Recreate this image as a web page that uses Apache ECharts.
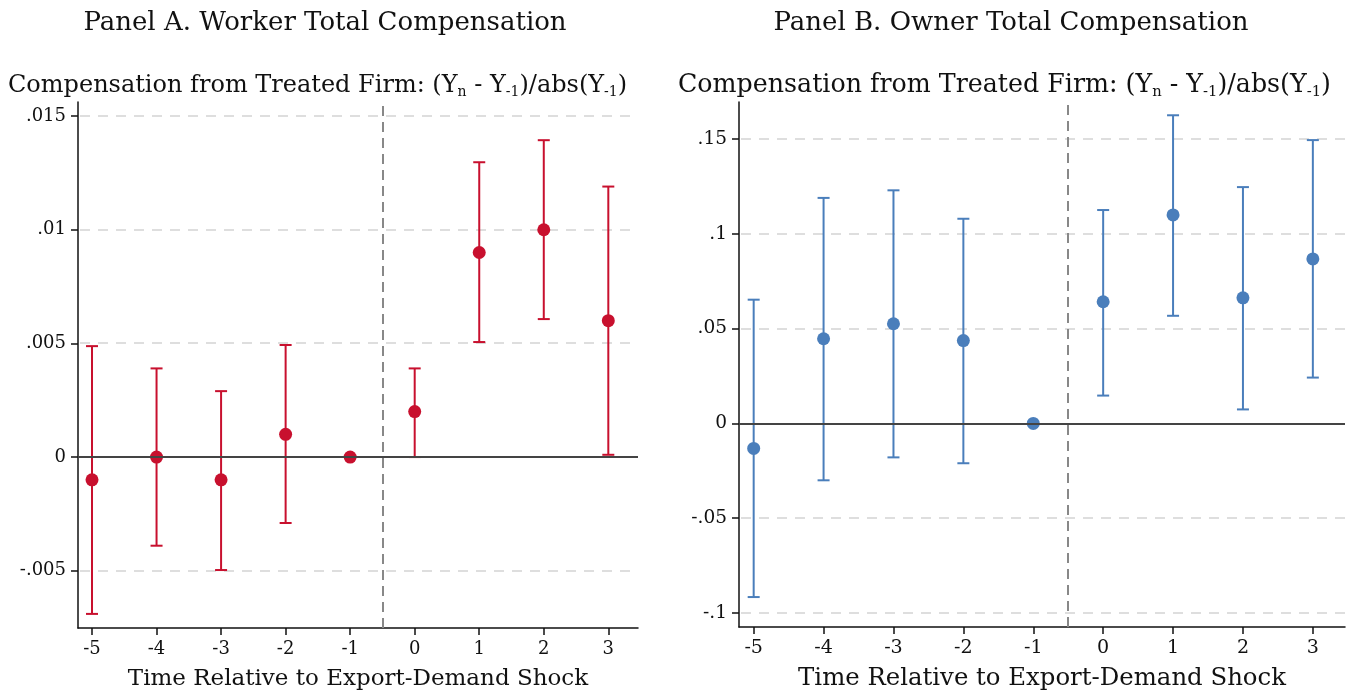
<!DOCTYPE html>
<html>
<head>
<meta charset="utf-8">
<script src="https://cdn.jsdelivr.net/npm/echarts@6/dist/echarts.min.js"></script>
<style>
html,body{margin:0;padding:0;background:#fff;}
#chart{width:1354px;height:696px;}
</style>
</head>
<body>
<div id="chart"></div>
<script>
// event time
var periods = [-5, -4, -3, -2, -1, 0, 1, 2, 3];

// Panel A: worker total compensation
var workerEst = [-0.001, 0.0, -0.001, 0.001, 0.0, 0.002, 0.009, 0.010, 0.006];
var workerLo = [-0.0069, -0.0039, -0.00497, -0.0029, null, 0.0, 0.00506, 0.00607, 0.0001];
var workerHi = [0.00488, 0.0039, 0.0029, 0.00493, null, 0.0039, 0.01297, 0.01394, 0.0119];

// Panel B: owner total compensation
var ownerEst = [-0.0132, 0.0447, 0.0526, 0.0437, 0.0, 0.0642, 0.110, 0.0663, 0.0868];
var ownerLo = [-0.0916, -0.030, -0.0179, -0.021, null, 0.0147, 0.0568, 0.0074, 0.0242];
var ownerHi = [0.0653, 0.119, 0.123, 0.108, null, 0.1126, 0.1626, 0.1247, 0.1495];

var workerTicks = [-0.005, 0, 0.005, 0.01, 0.015];
var ownerTicks = [-0.1, -0.05, 0, 0.05, 0.1, 0.15];

var red = '#c8102e', blue = '#4a7ebb';
var serif = '"DejaVu Serif", "Liberation Serif", serif';

var myChart = echarts.init(document.getElementById('chart'));

function fmt(v) {
	if (Math.abs(v) < 1e-12) return '0';
	var s = String(+v.toFixed(4));
	return s.replace('0.', '.');
}

function pts(est) {
	return periods.map(function(p, i) { return [p, est[i]]; });
}
function bars(lo, hi) {
	var d = [];
	periods.forEach(function(p, i) {
		if (lo[i] != null) d.push([p, lo[i], hi[i]]);
	});
	return d;
}

function errRender(color) {
	return function(params, api) {
		var x = api.value(0);
		var a = api.coord([x, api.value(2)]);
		var b = api.coord([x, api.value(1)]);
		var w = 6;
		var st = { stroke: color, lineWidth: 2 };
		return {
			type: 'group',
			children: [
				{ type: 'line', shape: { x1: a[0], y1: a[1], x2: b[0], y2: b[1] }, style: st },
				{ type: 'line', shape: { x1: a[0] - w, y1: a[1], x2: a[0] + w, y2: a[1] }, style: st },
				{ type: 'line', shape: { x1: b[0] - w, y1: b[1], x2: b[0] + w, y2: b[1] }, style: st }
			]
		};
	};
}

// horizontal dashed grid lines across the plot
function hLineRender(params, api) {
	var cs = params.coordSys;
	var y = Math.round(api.coord([0, api.value(1)])[1]);
	return {
		type: 'line',
		shape: { x1: cs.x + 2, y1: y, x2: cs.x + cs.width, y2: y },
		style: { stroke: '#dedede', lineWidth: 2, lineDash: [10, 8] }
	};
}

function subRich(k) {
	return {
		m: { fontFamily: serif, fontSize: 24 * k, fontWeight: 'normal', color: '#111' },
		s: { fontFamily: serif, fontSize: 14 * k, fontWeight: 'normal', color: '#111', padding: [13 * k, 0, 0, 0] }
	};
}
var subText = '{m|Compensation from Treated Firm: (Y}{s|n}{m| - Y}{s|-1}{m|)/abs(Y}{s|-1}{m|)}';

function xAx(idx, min, max, k) {
	return {
		type: 'value', gridIndex: idx, min: min, max: max,
		name: 'Time Relative to Export-Demand Shock',
		nameLocation: 'middle', nameGap: 40,
		nameTextStyle: { fontFamily: serif, fontSize: 23 * k, color: '#111' },
		axisLine: { onZero: false, lineStyle: { color: '#111', width: 1.5 } },
		axisTick: { show: true, length: 7, lineStyle: { color: '#111', width: 1.5 }, customValues: periods },
		axisLabel: { fontFamily: serif, fontSize: 18 * k, color: '#111', margin: 12, customValues: periods },
		splitLine: { show: false }
	};
}
function yAx(idx, min, max, ticks, k) {
	return {
		type: 'value', gridIndex: idx, min: min, max: max,
		axisLine: { show: true, onZero: false, lineStyle: { color: '#111', width: 1.5 } },
		axisTick: { show: true, length: 7, lineStyle: { color: '#111', width: 1.5 }, customValues: ticks },
		axisLabel: { fontFamily: serif, fontSize: 18 * k, color: '#111', margin: 12, customValues: ticks, formatter: fmt },
		splitLine: { show: false }
	};
}

function panelSeries(idx, est, lo, hi, color, ticks) {
	return [
		{
			type: 'custom', xAxisIndex: idx, yAxisIndex: idx, silent: true, z: 1,
			data: ticks.filter(function(t) { return t !== 0; }).map(function(t) { return [0, t]; }),
			renderItem: hLineRender
		},
		{
			type: 'line', xAxisIndex: idx, yAxisIndex: idx, data: [], silent: true,
			markLine: {
				symbol: 'none', silent: true, label: { show: false },
				data: [
					{ yAxis: 0, lineStyle: { color: '#444', type: 'solid', width: 1.8 } },
					{ xAxis: -0.5, lineStyle: { color: '#888', type: [10, 6], width: 2 } }
				]
			}
		},
		{
			type: 'custom', xAxisIndex: idx, yAxisIndex: idx, data: bars(lo, hi),
			encode: { x: 0, y: [1, 2] }, renderItem: errRender(color), z: 3
		},
		{
			type: 'scatter', xAxisIndex: idx, yAxisIndex: idx, data: pts(est),
			symbolSize: 13, itemStyle: { color: color, opacity: 1 }, z: 4
		}
	];
}

myChart.setOption({
	animation: false,
	title: [
		{ text: 'Panel A. Worker Total Compensation', left: 320, top: 5, textAlign: 'center',
			textStyle: { fontFamily: serif, fontSize: 26, fontWeight: 'normal', color: '#111' } },
		{ text: 'Panel B. Owner Total Compensation', left: 1006, top: 5, textAlign: 'center',
			textStyle: { fontFamily: serif, fontSize: 26, fontWeight: 'normal', color: '#111' } },
		{ text: subText, left: 3, top: 67, textStyle: { rich: subRich(1) } },
		{ text: subText, left: 673, top: 66, textStyle: { rich: subRich(1.055) } }
	],
	grid: [
		{ left: 78, right: 716, top: 102, bottom: 68 },
		{ left: 739, right: 9, top: 102, bottom: 68 }
	],
	xAxis: [xAx(0, -5.217, 3.46, 1), xAx(1, -5.21, 3.46, 1.06)],
	yAxis: [yAx(0, -0.00752, 0.01562, workerTicks, 1), yAx(1, -0.1074, 0.1696, ownerTicks, 1.03)],
	series: panelSeries(0, workerEst, workerLo, workerHi, red, workerTicks)
		.concat(panelSeries(1, ownerEst, ownerLo, ownerHi, blue, ownerTicks))
});
</script>
</body>
</html>
